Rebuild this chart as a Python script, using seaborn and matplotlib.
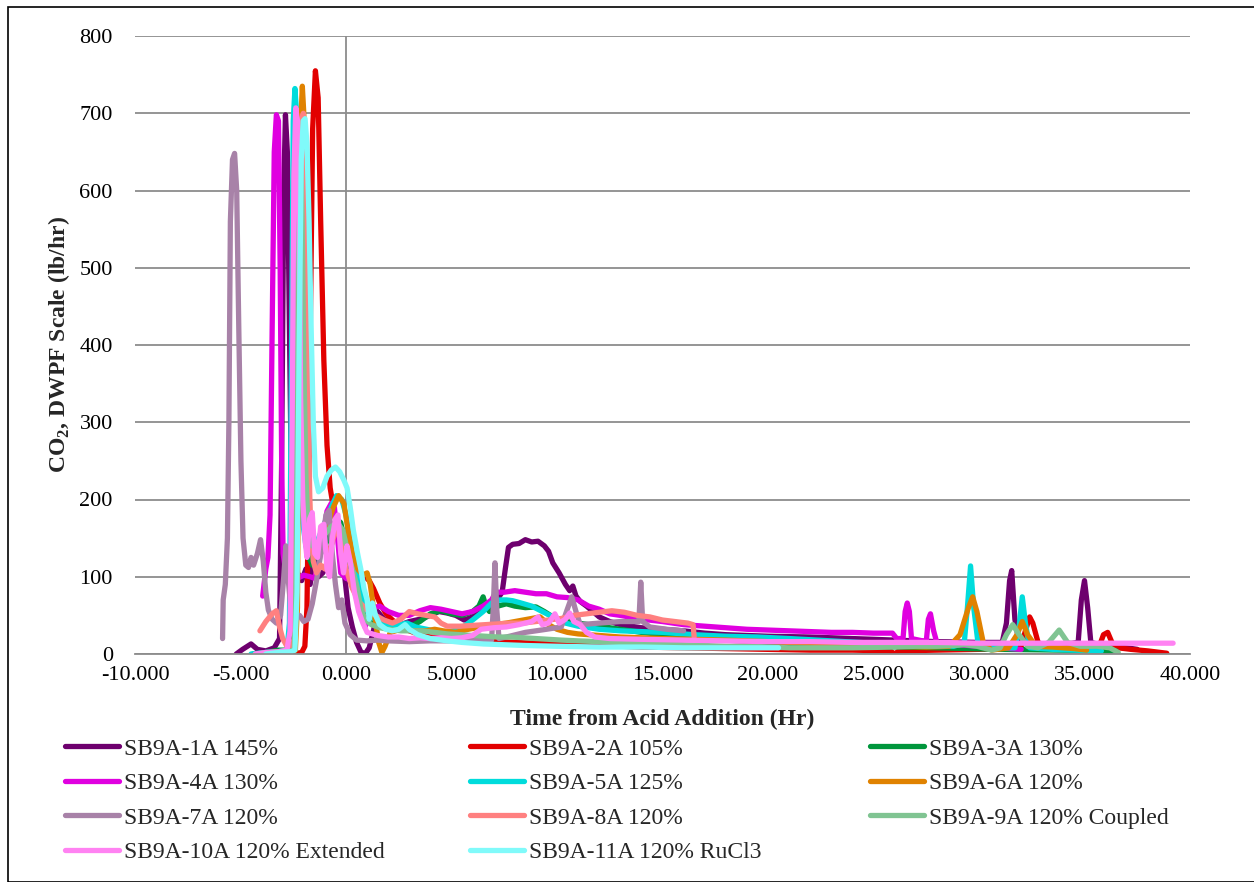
import matplotlib
matplotlib.use("Agg")
import matplotlib.pyplot as plt
import pandas as pd
import seaborn as sns
from matplotlib.ticker import FormatStrFormatter
from matplotlib.patches import Rectangle

# ---------------------------------------------------------------------------
# Off-gas CO2 (DWPF scale, lb/hr) versus time from acid addition (hr)
# ---------------------------------------------------------------------------
SERIES_NAMES = [
    "SB9A-1A 145%", "SB9A-2A 105%", "SB9A-3A 130%",
    "SB9A-4A 130%", "SB9A-5A 125%", "SB9A-6A 120%",
    "SB9A-7A 120%", "SB9A-8A 120%", "SB9A-9A 120% Coupled",
    "SB9A-10A 120% Extended", "SB9A-11A 120% RuCl3",
]
SERIES_COLORS = [
    "#6E006E", "#E20000", "#00963C",
    "#E000E0", "#00DCDC", "#E08200",
    "#A882A8", "#FF8080", "#80C492",
    "#FF82F2", "#80FAFA",
]

# (time, co2) pairs for each run
SB9A_1A = [(-5.2, 0), (-4.9, 6), (-4.5, 13), (-4.2, 6), (-3.8, 4), (-3.4, 8), (-3.15, 20),
           (-3.05, 250), (-2.95, 600), (-2.87, 698), (-2.78, 650), (-2.68, 420), (-2.58, 200),
           (-2.45, 115), (-2.3, 105), (-2.1, 95), (-1.9, 110), (-1.7, 90), (-1.5, 130),
           (-1.3, 100), (-1.1, 105), (-0.9, 115), (-0.7, 140), (-0.5, 165), (-0.3, 150),
           (-0.1, 110), (0.1, 60), (0.3, 35), (0.5, 15), (0.7, 3), (0.9, 0), (1.1, 8),
           (1.3, 30), (1.5, 55), (1.8, 45), (2.2, 42), (2.6, 38), (3.0, 42), (3.5, 45),
           (4.0, 50), (4.4, 55), (4.8, 53), (5.2, 50), (5.6, 44), (6.0, 48), (6.4, 55),
           (6.8, 62), (7.2, 72), (7.4, 80), (7.55, 110), (7.7, 138), (7.9, 142), (8.2, 143),
           (8.5, 148), (8.8, 145), (9.1, 146), (9.4, 140), (9.6, 133), (9.8, 118),
           (10.1, 105), (10.4, 90), (10.6, 82), (10.75, 88), (10.9, 75), (11.1, 68),
           (11.4, 62), (11.7, 55), (12.0, 48), (12.5, 42), (13.0, 38), (14.0, 34),
           (15.0, 32), (16.0, 30), (17.0, 27), (18.0, 25), (19.0, 24), (20.0, 23),
           (22.0, 22), (24.0, 20), (26.0, 18), (28.0, 16), (30.0, 15), (31.1, 15),
           (31.3, 40), (31.45, 95), (31.55, 108), (31.7, 45), (31.9, 15), (32.5, 12),
           (34.0, 12), (34.7, 15), (34.85, 70), (35.0, 95), (35.15, 60), (35.3, 15),
           (36.0, 10), (37.0, 8), (37.5, 6)]
SB9A_2A = [(-3.0, 0), (-2.5, 0), (-2.1, 2), (-1.95, 10), (-1.85, 60), (-1.78, 200),
           (-1.68, 450), (-1.58, 680), (-1.45, 755), (-1.32, 720), (-1.2, 560),
           (-1.05, 380), (-0.9, 270), (-0.75, 215), (-0.6, 190), (-0.4, 160), (-0.2, 140),
           (0.0, 125), (0.3, 110), (0.6, 105), (0.9, 100), (1.1, 95), (1.3, 85), (1.6, 66),
           (1.9, 52), (2.2, 44), (2.6, 35), (3.0, 30), (3.5, 25), (4.0, 22), (5.0, 20),
           (6.0, 18), (7.0, 16), (8.0, 15), (9.0, 14), (10.0, 13), (12.0, 11), (14.0, 9),
           (16.0, 8), (18.0, 7), (20.0, 6), (22.0, 5), (24.0, 5), (25.8, 4), (26.0, 0),
           (26.2, 4), (28.0, 5), (30.0, 6), (31.0, 7), (32.0, 10), (32.2, 30), (32.4, 48),
           (32.55, 40), (32.8, 15), (33.3, 8), (34.5, 8), (35.7, 10), (35.9, 25),
           (36.1, 28), (36.3, 15), (36.6, 8), (37.2, 6), (38.0, 4), (38.9, 1)]
SB9A_3A = [(-4.4, 0), (-3.8, 2), (-3.2, 5), (-2.8, 5), (-2.6, 8), (-2.5, 60), (-2.42, 400),
           (-2.35, 680), (-2.28, 690), (-2.2, 550), (-2.1, 320), (-2.0, 180), (-1.85, 130),
           (-1.6, 115), (-1.3, 125), (-1.0, 140), (-0.7, 160), (-0.45, 175), (-0.25, 170),
           (0.0, 140), (0.3, 100), (0.6, 70), (0.9, 50), (1.2, 42), (1.6, 40), (2.0, 38),
           (2.5, 36), (3.0, 35), (3.5, 42), (4.0, 52), (4.5, 56), (5.0, 52), (5.5, 50),
           (6.0, 55), (6.3, 62), (6.5, 74), (6.65, 60), (6.8, 55), (7.2, 62), (7.6, 65),
           (8.0, 62), (8.5, 60), (9.0, 61), (9.4, 55), (9.8, 48), (10.5, 42), (11.5, 38),
           (12.5, 34), (14.0, 28), (16.0, 22), (18.0, 18), (20.0, 15), (22.0, 12),
           (25.0, 10), (28.0, 8), (31.0, 6), (34.0, 5), (36.5, 4)]
SB9A_4A = [(-3.95, 75), (-3.8, 110), (-3.7, 125), (-3.6, 180), (-3.5, 420), (-3.4, 650),
           (-3.3, 698), (-3.2, 690), (-3.12, 500), (-3.05, 250), (-2.98, 130),
           (-2.85, 105), (-2.6, 100), (-2.3, 98), (-2.0, 102), (-1.7, 100), (-1.5, 98),
           (-1.3, 115), (-1.1, 150), (-0.9, 185), (-0.7, 195), (-0.55, 190), (-0.4, 150),
           (-0.25, 105), (0.0, 98), (0.3, 95), (0.55, 85), (0.75, 55), (0.9, 35),
           (1.05, 45), (1.3, 60), (1.6, 62), (2.0, 55), (2.5, 50), (3.0, 50), (3.5, 56),
           (4.0, 60), (4.5, 58), (5.0, 55), (5.5, 52), (6.0, 55), (6.5, 62), (6.9, 70),
           (7.1, 80), (7.5, 80), (8.0, 82), (8.5, 80), (9.0, 78), (9.5, 78), (10.0, 74),
           (10.5, 73), (11.0, 70), (11.5, 62), (12.0, 58), (12.5, 52), (13.0, 50),
           (14.0, 45), (15.0, 42), (16.0, 38), (17.0, 36), (18.0, 34), (19.0, 32),
           (20.0, 31), (21.0, 30), (22.0, 29), (23.0, 28), (24.0, 28), (25.0, 27),
           (25.9, 27), (26.1, 20), (26.4, 20), (26.5, 55), (26.6, 66), (26.7, 55),
           (26.8, 20), (27.5, 16), (27.6, 45), (27.7, 52), (27.85, 30), (28.0, 15),
           (29.0, 12), (30.0, 10), (31.0, 8), (32.0, 6)]
SB9A_5A = [(-4.5, 0), (-3.8, 2), (-3.2, 3), (-2.8, 5), (-2.68, 40), (-2.58, 400),
           (-2.5, 690), (-2.42, 732), (-2.34, 700), (-2.25, 480), (-2.15, 260),
           (-2.05, 170), (-1.9, 140), (-1.6, 130), (-1.3, 150), (-1.0, 170), (-0.7, 190),
           (-0.45, 205), (-0.2, 200), (0.0, 180), (0.3, 130), (0.6, 90), (0.9, 60),
           (1.2, 48), (1.6, 40), (2.1, 35), (2.5, 38), (2.9, 40), (3.3, 35), (4.0, 31),
           (4.7, 28), (5.4, 32), (6.0, 44), (6.5, 55), (6.9, 66), (7.3, 70), (7.6, 70),
           (7.9, 69), (8.3, 66), (8.8, 62), (9.3, 55), (9.8, 48), (10.4, 40), (11.0, 36),
           (12.0, 32), (13.0, 30), (14.0, 29), (15.0, 28), (16.5, 25), (18.0, 23),
           (19.5, 22), (21.0, 20), (23.0, 17), (25.0, 14), (27.0, 12), (28.8, 10),
           (29.3, 14), (29.45, 60), (29.6, 114), (29.75, 60), (29.95, 15), (30.6, 8),
           (31.7, 8), (31.9, 35), (32.05, 74), (32.2, 40), (32.4, 8), (33.5, 6),
           (34.5, 5), (35.8, 4)]
SB9A_6A = [(-4.2, 0), (-3.5, 2), (-2.8, 4), (-2.4, 5), (-2.3, 60), (-2.22, 400),
           (-2.14, 690), (-2.07, 735), (-2.0, 700), (-1.9, 480), (-1.8, 260), (-1.7, 170),
           (-1.5, 140), (-1.2, 145), (-0.9, 165), (-0.6, 190), (-0.35, 205), (-0.1, 195),
           (0.1, 160), (0.3, 130), (0.55, 110), (0.8, 102), (1.0, 105), (1.15, 90),
           (1.35, 50), (1.55, 15), (1.7, 2), (1.85, 10), (2.1, 28), (2.6, 32), (3.2, 30),
           (3.8, 30), (4.2, 32), (4.6, 30), (5.2, 28), (5.8, 32), (6.4, 35), (7.0, 38),
           (7.6, 40), (8.2, 43), (8.8, 46), (9.2, 48), (9.6, 38), (10.0, 32), (10.5, 28),
           (11.0, 26), (12.0, 24), (13.0, 22), (14.0, 21), (15.0, 20), (16.5, 19),
           (18.0, 18), (20.0, 16), (22.0, 14), (24.0, 12), (26.0, 10), (27.5, 9),
           (28.6, 10), (29.1, 25), (29.5, 60), (29.7, 74), (29.9, 55), (30.2, 15),
           (30.6, 5), (31.4, 8), (31.8, 25), (32.05, 42), (32.3, 25), (32.7, 10),
           (33.5, 9), (34.5, 7), (35.1, 5)]
SB9A_7A = [(-5.85, 20), (-5.82, 70), (-5.72, 90), (-5.62, 150), (-5.55, 300),
           (-5.48, 560), (-5.38, 640), (-5.28, 648), (-5.18, 600), (-5.08, 420),
           (-4.98, 250), (-4.88, 150), (-4.75, 115), (-4.62, 112), (-4.5, 125),
           (-4.38, 115), (-4.2, 130), (-4.05, 148), (-3.92, 120), (-3.8, 80), (-3.68, 57),
           (-3.5, 45), (-3.3, 40), (-3.1, 50), (-2.95, 100), (-2.85, 140), (-2.75, 100),
           (-2.6, 55), (-2.4, 45), (-2.2, 50), (-2.0, 42), (-1.8, 45), (-1.6, 65),
           (-1.4, 95), (-1.25, 120), (-1.1, 150), (-0.95, 180), (-0.8, 186), (-0.65, 130),
           (-0.5, 90), (-0.35, 60), (-0.2, 70), (-0.05, 40), (0.2, 25), (0.5, 18),
           (1.0, 17), (1.5, 18), (2.0, 17), (3.0, 16), (4.0, 17), (5.0, 17), (6.0, 18),
           (6.9, 18), (6.98, 60), (7.06, 118), (7.14, 60), (7.25, 20), (7.6, 22),
           (8.5, 28), (9.5, 32), (10.2, 35), (10.45, 55), (10.7, 74), (10.9, 55),
           (11.1, 38), (12.0, 40), (13.0, 42), (13.88, 42), (13.97, 93), (14.06, 42),
           (14.4, 35), (15.2, 32), (16.0, 30)]
SB9A_8A = [(-4.08, 30), (-3.8, 42), (-3.5, 52), (-3.3, 56), (-3.15, 35), (-3.0, 20),
           (-2.8, 10), (-2.6, 8), (-2.45, 20), (-2.35, 200), (-2.25, 550), (-2.12, 690),
           (-2.02, 700), (-1.92, 600), (-1.82, 350), (-1.7, 180), (-1.55, 120),
           (-1.4, 105), (-1.2, 115), (-1.0, 110), (-0.8, 130), (-0.6, 150), (-0.4, 165),
           (-0.2, 140), (0.0, 110), (0.3, 85), (0.6, 68), (1.0, 57), (1.4, 50), (1.8, 44),
           (2.2, 40), (2.6, 45), (3.0, 55), (3.4, 52), (3.8, 50), (4.2, 48), (4.5, 40),
           (4.8, 36), (5.4, 36), (6.0, 37), (6.6, 38), (7.2, 39), (7.8, 40), (8.4, 40),
           (9.0, 42), (9.6, 44), (10.2, 46), (10.8, 50), (11.4, 52), (12.0, 54),
           (12.6, 56), (13.2, 54), (13.8, 50), (14.4, 48), (15.0, 44), (15.6, 42),
           (16.2, 40), (16.45, 38), (16.5, 22)]
SB9A_9A = [(-4.3, 0), (-3.5, 2), (-2.8, 3), (-2.45, 5), (-2.38, 80), (-2.3, 400),
           (-2.22, 640), (-2.15, 650), (-2.08, 560), (-2.0, 380), (-1.9, 230), (-1.8, 160),
           (-1.6, 140), (-1.3, 145), (-1.0, 155), (-0.7, 165), (-0.4, 170), (-0.15, 160),
           (0.1, 130), (0.3, 110), (0.5, 90), (0.7, 60), (0.9, 45), (1.2, 38), (1.6, 34),
           (2.0, 32), (2.6, 30), (3.2, 30), (3.6, 30), (4.2, 28), (4.8, 26), (5.4, 25),
           (6.0, 24), (6.6, 23), (7.2, 22), (7.8, 22), (8.4, 21), (9.0, 20), (9.6, 19),
           (10.2, 18), (11.0, 17), (12.0, 16), (13.0, 15), (14.0, 14), (15.0, 13),
           (16.0, 12), (17.0, 11), (18.0, 10), (19.0, 10), (20.0, 9), (21.0, 8),
           (22.0, 8), (24.0, 8), (26.0, 9), (27.0, 10), (28.0, 10), (28.8, 11),
           (29.3, 12), (29.9, 10), (30.6, 5), (31.0, 8), (31.3, 25), (31.6, 38),
           (31.9, 25), (32.3, 10), (32.8, 8), (33.3, 15), (33.8, 31), (34.2, 15),
           (34.8, 10), (35.6, 10), (36.2, 8), (36.6, 2)]
SB9A_10A = [(-4.3, 0), (-3.8, 2), (-3.2, 3), (-2.8, 5), (-2.65, 30), (-2.55, 300),
            (-2.47, 620), (-2.38, 707), (-2.3, 690), (-2.22, 550), (-2.15, 330),
            (-2.05, 200), (-1.95, 150), (-1.85, 125), (-1.72, 175), (-1.6, 183),
            (-1.48, 130), (-1.35, 125), (-1.2, 165), (-1.05, 168), (-0.9, 110),
            (-0.78, 100), (-0.65, 150), (-0.5, 175), (-0.38, 180), (-0.25, 130),
            (-0.12, 105), (0.05, 140), (0.2, 120), (0.4, 80), (0.6, 55), (0.8, 40),
            (1.0, 28), (1.5, 24), (2.0, 22), (2.5, 22), (3.0, 20), (3.5, 21), (4.0, 20),
            (4.5, 21), (5.0, 20), (5.5, 21), (6.0, 24), (6.4, 32), (7.0, 34), (7.6, 35),
            (8.2, 38), (8.8, 42), (9.1, 48), (9.3, 38), (9.6, 40), (9.9, 52), (10.1, 40),
            (10.4, 45), (10.6, 53), (10.8, 42), (11.1, 38), (11.4, 28), (11.8, 22),
            (12.5, 20), (14.0, 19), (16.0, 18), (18.0, 17), (20.0, 16), (22.0, 16),
            (24.0, 15), (26.0, 15), (28.0, 15), (30.0, 14), (32.0, 14), (34.0, 14),
            (36.0, 14), (38.0, 14), (39.2, 14)]
SB9A_11A = [(-3.8, 0), (-3.2, 2), (-2.6, 3), (-2.42, 5), (-2.32, 80), (-2.22, 400),
            (-2.12, 640), (-2.03, 690), (-1.94, 693), (-1.85, 660), (-1.75, 560),
            (-1.65, 420), (-1.55, 300), (-1.45, 230), (-1.3, 210), (-1.1, 215),
            (-0.9, 230), (-0.7, 238), (-0.5, 242), (-0.3, 236), (-0.1, 225), (0.05, 215),
            (0.2, 190), (0.35, 160), (0.55, 130), (0.7, 110), (0.85, 85), (1.0, 70),
            (1.1, 45), (1.25, 66), (1.4, 50), (1.6, 38), (1.9, 32), (2.2, 30), (2.5, 32),
            (2.8, 38), (3.0, 32), (3.4, 25), (4.0, 20), (4.8, 17), (5.5, 15), (6.5, 13),
            (7.5, 12), (8.5, 11), (10.0, 10), (12.0, 9), (14.0, 9), (16.0, 8), (18.0, 8),
            (20.0, 8), (20.5, 8)]

RUNS = [SB9A_1A, SB9A_2A, SB9A_3A, SB9A_4A, SB9A_5A, SB9A_6A,
        SB9A_7A, SB9A_8A, SB9A_9A, SB9A_10A, SB9A_11A]

X_TICKS = [-10, -5, 0, 5, 10, 15, 20, 25, 30, 35, 40]
Y_TICKS = [0, 100, 200, 300, 400, 500, 600, 700, 800]

# ---------------------------------------------------------------------------
rows = []
for name, run in zip(SERIES_NAMES, RUNS):
    for t, v in run:
        rows.append({"run": name, "time": t, "co2": v})
df = pd.DataFrame(rows)

sns.set_theme(style="white")
plt.rcParams["font.family"] = ["Liberation Serif", "DejaVu Serif"]
plt.rcParams["mathtext.fontset"] = "custom"
plt.rcParams["mathtext.rm"] = "Liberation Serif"
plt.rcParams["mathtext.bf"] = "Liberation Serif:bold"

W, H = 1254, 882
LW = 3.8
fig = plt.figure(figsize=(W / 100, H / 100), dpi=100)
fig.patch.set_facecolor("white")
ax = fig.add_axes([135 / W, 1 - 654 / H, (1190 - 135) / W, (654 - 36) / H])

palette = dict(zip(SERIES_NAMES, SERIES_COLORS))
sns.lineplot(data=df, x="time", y="co2", hue="run", hue_order=SERIES_NAMES,
             palette=palette, sort=False, estimator=None, linewidth=LW,
             legend=False, ax=ax)
for ln in ax.lines:
    ln.set_solid_capstyle("round")
    ln.set_solid_joinstyle("round")

grid_col = "#8C8C8C"
ax.set_xlim(-10, 40)
ax.set_ylim(0, 800)
ax.set_xticks(X_TICKS)
ax.set_yticks(Y_TICKS)
ax.xaxis.set_major_formatter(FormatStrFormatter("%.3f"))
ax.yaxis.grid(True, color=grid_col, linewidth=1.3)
ax.xaxis.grid(False)
ax.set_axisbelow(True)
for side in ("top", "right", "left"):
    ax.spines[side].set_visible(False)
ax.spines["bottom"].set_color(grid_col)
ax.spines["bottom"].set_linewidth(1.3)
ax.axvline(0, color=grid_col, linewidth=1.3, zorder=0.5)

ax.tick_params(axis="y", length=0, pad=16, labelsize=16, labelcolor="black")
ax.tick_params(axis="x", direction="out", length=5, width=1.3, color=grid_col,
               pad=4, labelsize=16, labelcolor="black")

ax.set_xlabel("Time from Acid Addition (Hr)", fontsize=17, fontweight="bold")
ax.set_ylabel(r"CO$_\mathbf{2}$, DWPF Scale (lb/hr)", fontsize=17, fontweight="bold")
ax.xaxis.set_label_coords(0.5, -0.089)
ax.yaxis.set_label_coords(-0.060, 0.5)

# Legend laid out in three columns, filled row by row
handles = ax.lines[:len(SERIES_NAMES)]
col_x = [65, 470, 870]
for c in range(3):
    idx = list(range(c, len(SERIES_NAMES), 3))
    leg = fig.legend([handles[i] for i in idx], [SERIES_NAMES[i] for i in idx],
                     loc="upper left", bbox_to_anchor=(col_x[c] / W, 1 - 738 / H),
                     frameon=False, fontsize=17, handlelength=2.3,
                     handletextpad=0.2, labelspacing=0.55, borderpad=0,
                     borderaxespad=0)
    for lh in leg.get_lines():
        lh.set_linewidth(LW)
        lh.set_solid_capstyle("round")

# Chart border
fig.add_artist(Rectangle((8 / W, 0), 1.2, 1 - 7 / H, transform=fig.transFigure,
                         fill=False, edgecolor="black", linewidth=1.2))

fig.savefig("out.png", dpi=100, facecolor="white")
